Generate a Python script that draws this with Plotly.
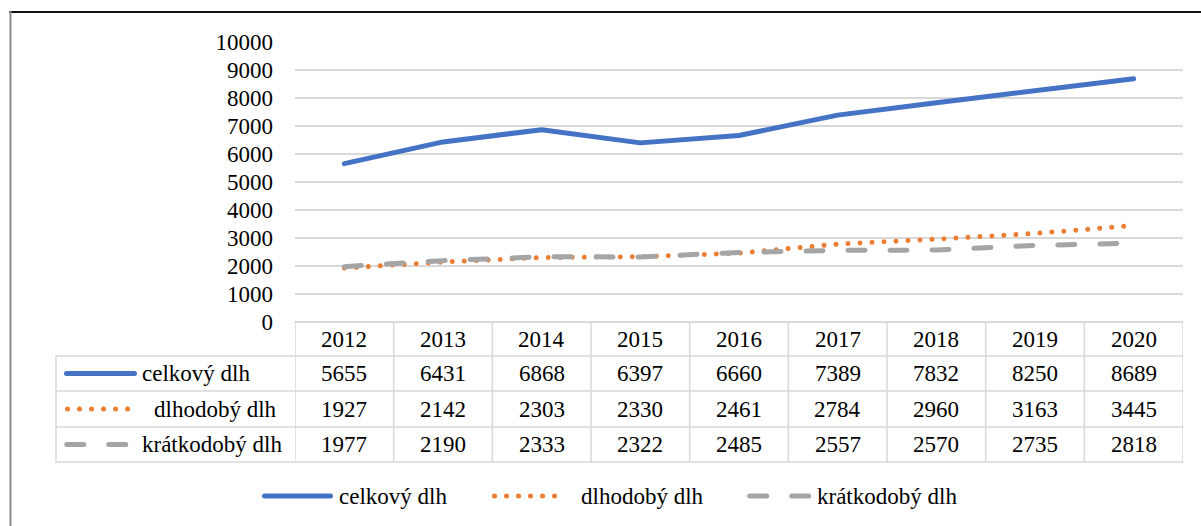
import plotly.graph_objects as go

# ---- data ----
years = ["2012", "2013", "2014", "2015", "2016", "2017", "2018", "2019", "2020"]
series_names = ["celkový dlh", "dlhodobý dlh", "krátkodobý dlh"]
celkovy = [5655, 6431, 6868, 6397, 6660, 7389, 7832, 8250, 8689]
dlhodoby = [1927, 2142, 2303, 2330, 2461, 2784, 2960, 3163, 3445]
kratkodoby = [1977, 2190, 2333, 2322, 2485, 2557, 2570, 2735, 2818]
series_values = [celkovy, dlhodoby, kratkodoby]

# ---- styles ----
FONT = "Liberation Serif, Times New Roman, Times, Tinos, DejaVu Serif, serif"
FS = 23
colors = ["#4472C4", "#ED7D31", "#A5A5A5"]
# round line caps are applied after rendering (see post_script)
dashes = ["solid", "0.01px,12px", "17px,25px"]
LW = 5
GRID = "#D9D9D9"

W, H = 1201, 526
ML, MR, MT, MB = 295, 18, 42, 204
PW, PH = W - ML - MR, H - MT - MB


def X(px):
    return (px - ML) / PW


def Y(py):
    return (H - MB - py) / PH


fig = go.Figure()
for name, vals, c, d in zip(series_names, series_values, colors, dashes):
    fig.add_trace(go.Scatter(
        x=years, y=vals, name=name, mode="lines",
        line=dict(color=c, width=LW, dash=d),
        showlegend=False, hoverinfo="x+y+name",
    ))

shapes = []
annotations = []
tfont = dict(family=FONT, size=FS, color="black")

row_edges = [322, 356, 391, 427, 462]
left_px = 56

shapes.append(dict(type="line", xref="paper", yref="paper", x0=0, x1=1,
                   y0=Y(row_edges[0]), y1=Y(row_edges[0]),
                   line=dict(color=GRID, width=1.5), layer="above"))
for ry in row_edges[1:]:
    shapes.append(dict(type="line", xref="paper", yref="paper", x0=X(left_px), x1=1,
                       y0=Y(ry), y1=Y(ry), line=dict(color=GRID, width=1.5)))
shapes.append(dict(type="line", xref="paper", yref="paper", x0=X(left_px), x1=X(left_px),
                   y0=Y(row_edges[1]), y1=Y(row_edges[-1]), line=dict(color=GRID, width=1.5)))
for i in range(len(years) + 1):
    shapes.append(dict(type="line", xref="x", yref="paper", x0=i - 0.5, x1=i - 0.5,
                       y0=Y(row_edges[0]), y1=Y(row_edges[-1]), line=dict(color=GRID, width=1.5)))

hy = (row_edges[0] + row_edges[1]) / 2
for i, yr in enumerate(years):
    annotations.append(dict(x=i, xref="x", y=Y(hy), yref="paper", text=yr,
                            showarrow=False, xanchor="center", yanchor="middle", font=tfont))

key_spans = [(66.5, 134.5), (67.5, 128.5), (66.75, 126.5)]
label_left = [140, 152, 140]
for r, (name, vals, c, d) in enumerate(zip(series_names, series_values, colors, dashes)):
    cy = (row_edges[r + 1] + row_edges[r + 2]) / 2
    for i, v in enumerate(vals):
        annotations.append(dict(x=i, xref="x", y=Y(cy), yref="paper", text=str(v),
                                showarrow=False, xanchor="center", yanchor="middle", font=tfont))
    k0, k1 = key_spans[r]
    shapes.append(dict(type="line", xref="paper", yref="paper", x0=X(k0), x1=X(k1),
                       y0=Y(cy), y1=Y(cy), line=dict(color=c, width=LW, dash=d)))
    annotations.append(dict(x=X(label_left[r]), xref="paper", y=Y(cy), yref="paper",
                            text=name, showarrow=False, xanchor="left", yanchor="middle",
                            font=tfont))

leg_y = 496
leg_keys = [(264.5, 330.5), (494.5, 555.5), (749.75, 809.5)]
leg_text = [337, 579, 815]
for name, c, d, (k0, k1), tx in zip(series_names, colors, dashes, leg_keys, leg_text):
    shapes.append(dict(type="line", xref="paper", yref="paper", x0=X(k0), x1=X(k1),
                       y0=Y(leg_y), y1=Y(leg_y), line=dict(color=c, width=LW, dash=d)))
    annotations.append(dict(x=X(tx), xref="paper", y=Y(leg_y), yref="paper",
                            text=name, showarrow=False, xanchor="left", yanchor="middle",
                            font=tfont))

shapes.append(dict(type="line", xref="paper", yref="paper", x0=X(10), x1=X(W + 2),
                   y0=Y(12), y1=Y(12), line=dict(color="#111111", width=2)))
shapes.append(dict(type="line", xref="paper", yref="paper", x0=X(10.5), x1=X(10.5),
                   y0=Y(12), y1=Y(H + 2), line=dict(color="#8C8C8C", width=2)))

fig.update_layout(
    width=W, height=H,
    margin=dict(l=ML, r=MR, t=MT, b=MB, pad=0),
    paper_bgcolor="white", plot_bgcolor="white",
    font=dict(family=FONT, size=FS, color="black"),
    shapes=shapes, annotations=annotations,
    showlegend=False,
    xaxis=dict(type="category", range=[-0.5, len(years) - 0.5], showticklabels=False,
               showgrid=False, zeroline=False, showline=False, ticks=""),
    yaxis=dict(range=[0, 10000], dtick=1000, tick0=0, tickformat="d",
               showgrid=True, gridcolor=GRID,
               gridwidth=1.5, zeroline=True, zerolinecolor=GRID, zerolinewidth=1.5,
               showline=False, ticks="", ticklabelstandoff=21,
               tickfont=tfont),
)

post = """
document.body.style.margin='0';document.body.style.padding='0';
var gd = document.getElementById('{plot_id}');
function roundCaps(){
  gd.querySelectorAll('path.js-line, .shapelayer path').forEach(function(p){
    p.style.strokeLinecap='round'; p.style.strokeLinejoin='round';
  });
}
roundCaps();
if (gd.on) { gd.on('plotly_afterplot', roundCaps); }
setTimeout(roundCaps, 50);
"""

fig.write_html("out.html", config={"displayModeBar": False}, post_script=post)
